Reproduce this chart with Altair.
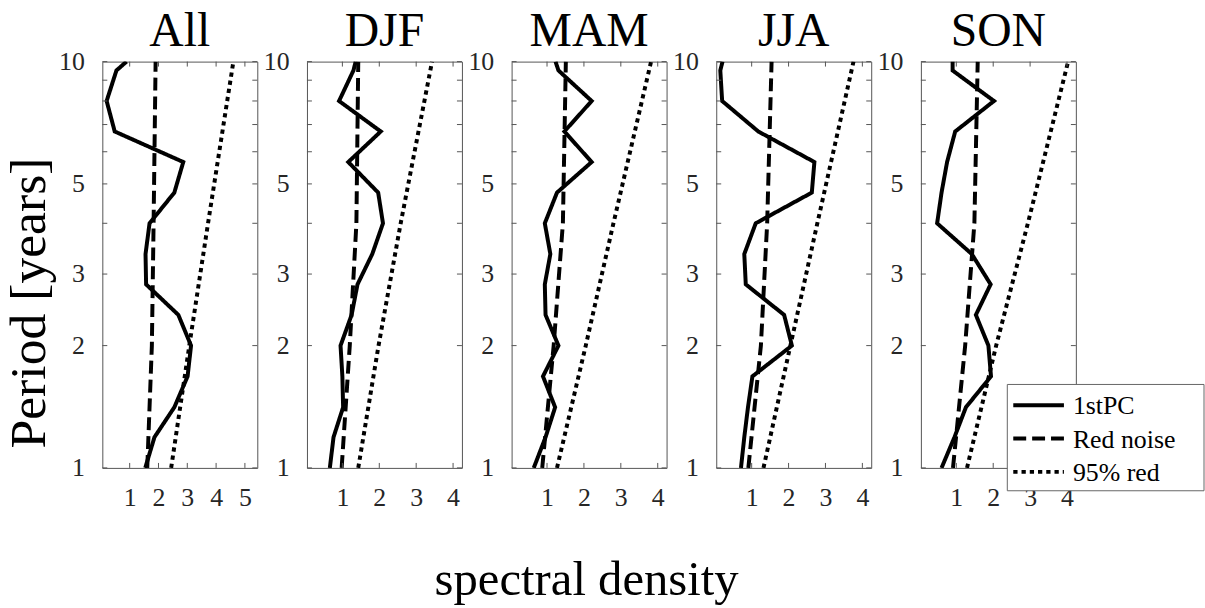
import altair as alt
import pandas as pd

SERIF = "Liberation Serif"
W, H = 156, 409

# Periods (years) at which the 1st PC spectrum is drawn
PERIODS = [1.0, 1.19, 1.41, 1.68, 2.0, 2.38, 2.83, 3.36, 4.0, 4.76, 5.66, 6.73, 8.0, 9.51, 10.0]
SEASONS = ["All", "DJF", "MAM", "JJA", "SON"]

PC_ALL = [1.54, 1.86, 2.55, 3.01, 3.13, 2.69, 1.57, 1.55, 1.69, 2.55, 2.86, 0.48, 0.20, 0.54, 0.89]
PC_DJF = [0.66, 0.76, 1.02, 1.00, 0.95, 1.25, 1.41, 1.81, 2.10, 1.97, 1.16, 2.04, 0.91, 1.30, 1.36]
PC_MAM = [0.64, 0.96, 1.22, 0.89, 1.31, 0.96, 0.94, 1.09, 0.94, 1.27, 2.21, 1.47, 2.21, 1.31, 1.23]
PC_JJA = [0.71, 0.80, 0.90, 1.02, 2.09, 1.88, 0.84, 0.80, 1.11, 2.63, 2.70, 1.18, 0.20, 0.15, 0.21]
PC_SON = [0.60, 0.95, 1.26, 1.94, 1.87, 1.53, 1.93, 1.42, 0.48, 0.60, 0.75, 0.97, 2.02, 0.90, 0.90]

# Red noise and 95% red-noise level, read at a few periods
REF_PERIODS = [1.0, 2.0, 4.0, 10.0]
RED_ALL = [1.61, 1.77, 1.83, 1.90]
RED_DJF = [0.98, 1.20, 1.38, 1.43]
RED_MAM = [0.87, 1.18, 1.43, 1.51]
RED_JJA = [0.91, 1.25, 1.42, 1.54]
RED_SON = [0.91, 1.24, 1.49, 1.58]
R95_ALL = [2.44, 3.07, 3.72, 4.60]
R95_DJF = [1.43, 1.98, 2.58, 3.43]
R95_MAM = [1.27, 2.05, 2.80, 3.82]
R95_JJA = [1.32, 2.05, 2.78, 3.76]
R95_SON = [1.29, 2.08, 2.94, 4.03]

X_DOMAIN_ALL = [0.05, 5.43]
X_DOMAIN = [0.04, 4.24]
X_TICKS_ALL = [1, 2, 3, 4, 5]
X_TICKS = [1, 2, 3, 4]
Y_LABELS = [1, 2, 3, 5, 10]
Y_TICKS = [1, 2, 3, 4, 5, 6, 7, 8, 9, 10]

SERIES = ["1stPC", "Red noise", "95% red"]
DASHES = [[1, 0], [13, 6], [4.3, 4]]

Y_TITLE = "Period [years]"
X_TITLE = "spectral density"

TICK_COLOR = "#555555"
LABEL_COLOR = "#262626"


def legend_layers():
    layers = []
    box = alt.Chart(pd.DataFrame({"k": [0]})).mark_rect(
        fill="white", stroke="#666666", strokeWidth=1).encode(
        x=alt.value(87), x2=alt.value(285), y=alt.value(325), y2=alt.value(432))
    layers.append(box)
    for i, (s, d) in enumerate(zip(SERIES, DASHES)):
        yy = 346 + 33.5 * i
        sdf = pd.DataFrame({"series": [s]})
        layers.append(alt.Chart(sdf).mark_rule(color="black", strokeWidth=4,
                                               strokeCap="butt").encode(
            x=alt.value(93), x2=alt.value(144), y=alt.value(yy),
            strokeDash=alt.value(d)))
        layers.append(alt.Chart(sdf).mark_text(font=SERIF, fontSize=26, color="black",
                                               align="left", baseline="middle").encode(
            x=alt.value(153), y=alt.value(yy + 1), text="series:N"))
    return layers


def panel(name, pc, red, r95, xdom, xticks, first=False, legend=False, xtitle=False):
    rows = []
    for p, v in zip(PERIODS, pc):
        rows.append({"series": "1stPC", "period": p, "value": v})
    for p, v in zip(REF_PERIODS, red):
        rows.append({"series": "Red noise", "period": p, "value": v})
    for p, v in zip(REF_PERIODS, r95):
        rows.append({"series": "95% red", "period": p, "value": v})
    df = pd.DataFrame(rows)

    xscale = alt.Scale(domain=xdom, nice=False, zero=False)
    yscale = alt.Scale(type="log", domain=[1, 10], nice=False)
    xt_text = X_TITLE if xtitle else None
    yt_text = Y_TITLE if first else None

    xaxis_kw = dict(values=xticks, ticks=False, tickSize=0, domain=False, grid=False,
                    labelPadding=17, labelFlush=False, labelOverlap=False,
                    labelFont=SERIF, labelFontSize=26, labelColor=LABEL_COLOR)
    if xtitle:
        xaxis_kw.update(titleFont=SERIF, titleFontSize=49,
                        titleFontWeight="normal", titleColor="black", titleX=75,
                        titleY=127, titleAlign="center", titleBaseline="alphabetic")

    yaxis_kw = dict(values=Y_LABELS, ticks=False, tickSize=0, domain=False, grid=False,
                    labelPadding=18, labelFlush=False, labelOverlap=False,
                    labelFont=SERIF, labelFontSize=26,
                    labelColor=LABEL_COLOR, labelBaseline="middle")
    if first:
        yaxis_kw.update(titleFont=SERIF, titleFontSize=52,
                        titleFontWeight="normal", titleColor="black", titleX=-57.7,
                        titleY=242.5, titleAngle=270, titleAlign="center",
                        titleBaseline="alphabetic")

    lines = alt.Chart(df).mark_line(strokeWidth=4, color="black", clip=True,
                                    strokeCap="butt").encode(
        x=alt.X("value:Q", scale=xscale, title=xt_text, axis=alt.Axis(**xaxis_kw)),
        y=alt.Y("period:Q", scale=yscale, title=yt_text, axis=alt.Axis(**yaxis_kw)),
        strokeDash=alt.StrokeDash("series:N",
                                  scale=alt.Scale(domain=SERIES, range=DASHES),
                                  legend=None),
        detail="series:N",
        order=alt.Order("period:Q"),
    )

    # inward tick marks on all four sides of the box (same axis spec, so axes merge)
    ydf = pd.DataFrame({"p": Y_TICKS})
    xdf = pd.DataFrame({"v": xticks})
    yenc = alt.Y("p:Q", scale=yscale, title=yt_text, axis=alt.Axis(**yaxis_kw))
    xenc = alt.X("v:Q", scale=xscale, title=xt_text, axis=alt.Axis(**xaxis_kw))
    yl = alt.Chart(ydf).mark_rule(color=TICK_COLOR, strokeWidth=1).encode(
        y=yenc, x=alt.value(0), x2=alt.value(5))
    yr = alt.Chart(ydf).mark_rule(color=TICK_COLOR, strokeWidth=1).encode(
        y=yenc, x=alt.value(W - 5), x2=alt.value(W))
    xb = alt.Chart(xdf).mark_rule(color=TICK_COLOR, strokeWidth=1).encode(
        x=xenc, y=alt.value(H - 5), y2=alt.value(H))
    xt = alt.Chart(xdf).mark_rule(color=TICK_COLOR, strokeWidth=1).encode(
        x=xenc, y=alt.value(0), y2=alt.value(5))

    layers = [lines, yl, yr, xb, xt]
    if legend:
        layers += legend_layers()

    return alt.layer(*layers).properties(
        width=W, height=H,
        title=alt.TitleParams(name, font=SERIF, fontSize=48, fontWeight="normal",
                              color="black", offset=-7, frame="group", anchor="middle"),
    )


panels = [
    panel("All", PC_ALL, RED_ALL, R95_ALL, X_DOMAIN_ALL, X_TICKS_ALL, first=True),
    panel("DJF", PC_DJF, RED_DJF, R95_DJF, X_DOMAIN, X_TICKS),
    panel("MAM", PC_MAM, RED_MAM, R95_MAM, X_DOMAIN, X_TICKS, xtitle=True),
    panel("JJA", PC_JJA, RED_JJA, R95_JJA, X_DOMAIN, X_TICKS),
    panel("SON", PC_SON, RED_SON, R95_SON, X_DOMAIN, X_TICKS, legend=True),
]

chart = alt.hconcat(*panels, spacing=50, bounds="flush").properties(
    padding={"left": 2, "top": 5, "right": 0, "bottom": 0}, background="white"
).configure_view(stroke=TICK_COLOR, strokeWidth=1)

chart.save("out.html", embed_options={"renderer": "svg", "actions": False})
